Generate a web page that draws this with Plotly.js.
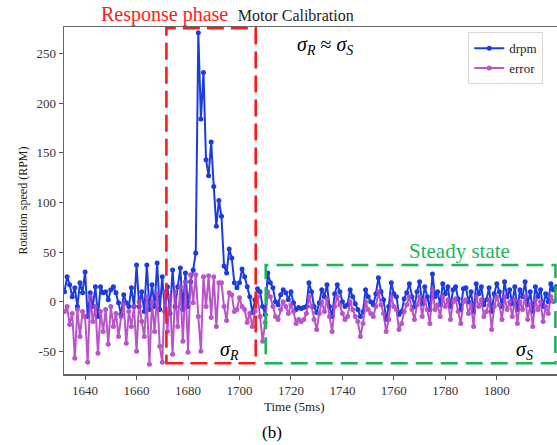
<!DOCTYPE html>
<html>
<head>
<meta charset="utf-8">
<script src="https://cdn.plot.ly/plotly-3.0.1.min.js"></script>
<style>
  html, body { margin: 0; padding: 0; background: #ffffff; }
  #chart { width: 557px; height: 445px; }
</style>
</head>
<body>
<div id="chart"></div>
<script>
// ---- data ----
const startTime = 1632;           // first sample (units of 5 ms)
const seriesNames = ["drpm", "error"];
const drpm = [
  10, 25, 17, 5, 14, -5, 19, 9, 30, -15,
  9, -5, 15, -15, 15, 9, 10, 2, 12, 15,
  9, -1, -13, 7, -1, -5, 14, -5, 37, -5,
  10, -10, 37, -8, 17, -5, 39, -8, 25, -10,
  15, -12, 32, -5, 15, 34, -8, 29, -5, 20,
  32, 49, 271, 184, 231, 143, 127, 161, 116, 76,
  102, 86, 36, 29, 53, 44, 19, 14, 19, 33,
  25, 15, 5, -11, 2, 13, 10, -5, -13, 29,
  19, 14, 0, -3, 7, 12, 9, 2, 10, -1,
  -8, -6, -7, -6, -5, 19, 10, -5, -11, -1,
  12, 5, 17, -5, -15, 8, 17, 10, 0, -5,
  -3, 12, 5, -2, -8, -15, -10, 12, 5, 0,
  -3, 8, 24, 10, 2, -18, -5, 19, 8, 5,
  -13, -10, 3, 9, 18, 5, -5, 10, 20, -2,
  15, 5, -8, 28, 5, 10, -3, 18, 8, 15,
  -5, 12, 15, 3, -8, 13, 14, 0, 10, -10,
  18, 8, 15, -3, 2, 14, -10, 8, 18, 10,
  -5, 20, 5, 12, -2, 15, -8, 12, 5, 20,
  -3, 10, -10, 15, 5, 12, -5, 8, 0, 18,
  12, 15
];
const error = [
  -10, -5, -23, -12, -57, -8, -35, -10, -15, -61,
  5, -20, -5, -52, -10, -30, -8, -43, -5, -25,
  -12, -35, -15, -2, -42, -10, -25, -5, -50, 0,
  -20, -35, 5, -63, 0, -30, 8, -45, -61, 10,
  -30, 5, -53, 10, -25, 15, -40, 20, -51, 27,
  -1, 27, -15, -50, 25, -5, 26, -16, 25, -25,
  19, 19, -5, -19, 9, 7, -10, -8, 4, -5,
  -8, -21, -12, -25, -10, 5, -15, -40, -21, 10,
  5, -5, -15, -18, -8, 0, -5, -12, -3, -10,
  -22, -18, -20, -18, -12, 5, -5, -18, -28, -12,
  0, -10, 3, -15, -30, -5, 5, -3, -12, -18,
  -15, 0, -8, -15, -20, -35, -22, 0, -8, -12,
  -15, -5, 10, -3, -12, -30, -18, 5, -5, -8,
  -28, -22, -10, -3, 5, -8, -18, -3, 5, -15,
  2, -8, -22, 12, -8, -3, -15, 5, -5, 2,
  -18, 0, 3, -10, -22, 0, 2, -12, -3, -25,
  5, -5, 2, -15, -10, 2, -28, -5, 5, -3,
  -18, 5, -8, 0, -15, 2, -22, 0, -8, 5,
  -18, -3, -25, 2, -8, 0, -20, -5, -12, 5,
  0, 2
];
const xTicks = [1640, 1660, 1680, 1700, 1720, 1740, 1760, 1780, 1800];
const yTicks = [-50, 0, 50, 100, 150, 200, 250];
// annotated regions (time span, rpm span)
const responseSpan = [1671.6, 1706.3];
const responseRange = [-62, 275.5];
const steadySpan = [1710.2, 1822.8];
const steadyRange = [-62, 37];

const time = drpm.map((_, i) => startTime + i);

const serif = "'Times New Roman', 'Liberation Serif', serif";
const blue = "#1c3be0";
const magenta = "#b043c4";
const red = "#ff1a1a";
const green = "#1db45a";

const traces = [
  {
    x: time, y: drpm, name: seriesNames[0], type: "scatter", mode: "lines+markers",
    line: { color: blue, width: 2 }, marker: { color: blue, size: 5 }
  },
  {
    x: time, y: error, name: seriesNames[1], type: "scatter", mode: "lines+markers",
    line: { color: magenta, width: 2 }, marker: { color: magenta, size: 5 },
    opacity: 0.9
  }
];

const layout = {
  width: 557, height: 445,
  margin: { l: 64, r: 0, t: 27, b: 71, pad: 0 },
  paper_bgcolor: "#ffffff", plot_bgcolor: "#ffffff",
  font: { family: serif, color: "#333333", size: 13 },
  title: {
    text: "Motor Calibration",
    font: { family: serif, size: 16, color: "#222222" },
    x: 0.47, xref: "paper", xanchor: "center",
    y: 0.966, yref: "container", yanchor: "middle"
  },
  showlegend: true,
  legend: {
    x: 0.82, y: 0.985, xanchor: "left", yanchor: "top",
    bgcolor: "#ffffff", bordercolor: "#d8d8d8", borderwidth: 1,
    font: { family: serif, size: 13, color: "#222222" },
    itemwidth: 30, tracegroupgap: 0
  },
  xaxis: {
    range: [1631.8, 1823.4],
    tickvals: xTicks, ticktext: xTicks.map(String),
    ticks: "outside", ticklen: 4, tickwidth: 1, tickcolor: "#555555",
    showline: true, linecolor: "#666666", linewidth: 1.5, mirror: true,
    showgrid: false, zeroline: false,
    tickfont: { family: serif, size: 13, color: "#333333" }
  },
  yaxis: {
    range: [-72.9, 276.8],
    tickvals: yTicks, ticktext: yTicks.map(String),
    ticks: "outside", ticklen: 4, tickwidth: 1, tickcolor: "#555555",
    showline: true, linecolor: "#666666", linewidth: 1.5, mirror: true,
    showgrid: false, zeroline: false,
    tickfont: { family: serif, size: 13, color: "#333333" },
    title: { text: "Rotation speed (RPM)", font: { family: serif, size: 12, color: "#222222" }, standoff: 6 }
  },
  shapes: [
    {
      type: "rect", xref: "x", yref: "y", layer: "above",
      x0: responseSpan[0], x1: responseSpan[1], y0: responseRange[0], y1: responseRange[1],
      line: { color: red, width: 2.6, dash: "17px,7px" }, fillcolor: "rgba(0,0,0,0)"
    },
    {
      type: "rect", xref: "x", yref: "y", layer: "above",
      x0: steadySpan[0], x1: steadySpan[1], y0: steadyRange[0], y1: steadyRange[1],
      line: { color: green, width: 2.6, dash: "17px,8px" }, fillcolor: "rgba(0,0,0,0)"
    }
  ],
  annotations: [
    {
      text: "Response phase", xref: "paper", yref: "paper",
      x: (164 - 64) / 493, y: 1 + (27 - 14) / 347, xanchor: "center", yanchor: "middle",
      showarrow: false, font: { family: serif, size: 20, color: red }
    },
    {
      text: "<i>σ<sub>R</sub></i> ≈ <i>σ<sub>S</sub></i>", xref: "paper", yref: "paper",
      x: (325 - 64) / 493, y: 1 - (45 - 27) / 347, xanchor: "center", yanchor: "middle",
      showarrow: false, font: { family: serif, size: 20, color: "#000000" }
    },
    {
      text: "<i>σ<sub>R</sub></i>", xref: "paper", yref: "paper",
      x: (229 - 64) / 493, y: 1 - (350 - 27) / 347, xanchor: "center", yanchor: "middle",
      showarrow: false, font: { family: serif, size: 20, color: "#000000" }
    },
    {
      text: "<i>σ<sub>S</sub></i>", xref: "paper", yref: "paper",
      x: (524 - 64) / 493, y: 1 - (350 - 27) / 347, xanchor: "center", yanchor: "middle",
      showarrow: false, font: { family: serif, size: 20, color: "#000000" }
    },
    {
      text: "Steady state", xref: "paper", yref: "paper",
      x: (459 - 64) / 493, y: 1 - (251 - 27) / 347, xanchor: "center", yanchor: "middle",
      showarrow: false, font: { family: serif, size: 21, color: green }
    },
    {
      text: "Time (5ms)", xref: "paper", yref: "paper",
      x: (294 - 64) / 493, y: 1 - (407 - 27) / 347, xanchor: "center", yanchor: "middle",
      showarrow: false, font: { family: serif, size: 13, color: "#222222" }
    },
    {
      text: "(b)", xref: "paper", yref: "paper",
      x: (272 - 64) / 493, y: 1 - (432 - 27) / 347, xanchor: "center", yanchor: "middle",
      showarrow: false, font: { family: serif, size: 17, color: "#000000" }
    }
  ]
};

Plotly.newPlot("chart", traces, layout, { displayModeBar: false, staticPlot: true });
</script>
</body>
</html>
